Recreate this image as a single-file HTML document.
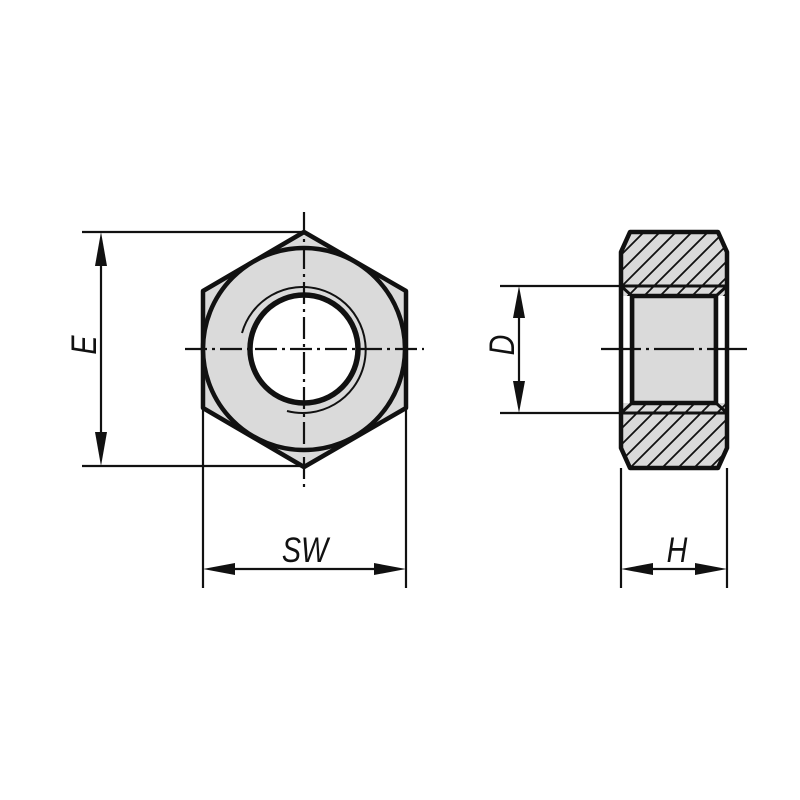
<!DOCTYPE html>
<html><head><style>html,body{margin:0;padding:0;background:#fff}svg{display:block}</style></head>
<body>
<svg width="800" height="800" viewBox="0 0 800 800" xmlns="http://www.w3.org/2000/svg">
<defs>
<clipPath id="ct"><path d="M630,232 L718,232 L727,252 L727,296 L621,296 L621,252 Z"/></clipPath>
<clipPath id="cb"><path d="M621,403 L727,403 L727,448 L718,468 L630,468 L621,448 Z"/></clipPath>
</defs>
<!-- front view -->
<polygon points="304,232 406,291 406,408 304,467 203,408 203,291" fill="#dadada" stroke="#111" stroke-width="4.5" stroke-linejoin="round"/>
<circle cx="304" cy="349" r="101" fill="#dadada" stroke="#111" stroke-width="4.5"/>
<circle cx="304" cy="349" r="54" fill="#fff" stroke="#111" stroke-width="5.5"/>
<path d="M242,333 A63,63 0 1 1 287,411" fill="none" stroke="#111" stroke-width="2"/>
<line x1="304" y1="212" x2="304" y2="488" stroke="#111" stroke-width="2.2" stroke-dasharray="22,5,3,5"/>
<line x1="185" y1="349" x2="424" y2="349" stroke="#111" stroke-width="2.2" stroke-dasharray="22,5,3,5"/>
<g stroke="#111" stroke-width="2.2">
<line x1="82" y1="232" x2="304" y2="232"/>
<line x1="82" y1="466" x2="304" y2="466"/>
<line x1="101" y1="240" x2="101" y2="458"/>
<line x1="203" y1="410" x2="203" y2="588"/>
<line x1="406" y1="410" x2="406" y2="588"/>
<line x1="211" y1="569" x2="398" y2="569"/>
<line x1="621" y1="468" x2="621" y2="588"/>
<line x1="727" y1="468" x2="727" y2="588"/>
<line x1="629" y1="569" x2="719" y2="569"/>
<line x1="500" y1="286" x2="625" y2="286"/>
<line x1="500" y1="413" x2="625" y2="413"/>
<line x1="519" y1="294" x2="519" y2="405"/>
</g>
<g fill="#111">
<polygon points="101,232 95,266 107,266"/>
<polygon points="101,466 95,432 107,432"/>
<polygon points="203,569 235,563 235,575"/>
<polygon points="406,569 374,563 374,575"/>
<polygon points="621,569 653,563 653,575"/>
<polygon points="727,569 695,563 695,575"/>
<polygon points="519,286 513,318 525,318"/>
<polygon points="519,413 513,381 525,381"/>
</g>
<g font-family="Liberation Sans, sans-serif" font-style="italic" font-size="35" fill="#111">
<text text-anchor="middle" transform="translate(305,562) scale(0.82,1)">SW</text>
<text text-anchor="middle" transform="translate(677,562) scale(0.82,1)">H</text>
<text text-anchor="middle" transform="translate(96,345) rotate(-90) scale(0.82,1)">E</text>
<text text-anchor="middle" transform="translate(514,345) rotate(-90) scale(0.82,1)">D</text>
</g>
<!-- side view -->
<rect x="621" y="286" width="106" height="127" fill="#fff"/>
<g clip-path="url(#ct)" stroke="#111" stroke-width="1.8">
<rect x="600" y="220" width="150" height="80" fill="#dadada" stroke="none"/>
<path d="M560,300 L640,220 M576,300 L656,220 M592,300 L672,220 M608,300 L688,220 M624,300 L704,220 M640,300 L720,220 M656,300 L736,220 M672,300 L752,220 M688,300 L768,220 M704,300 L784,220 M720,300 L800,220"/>
</g>
<g clip-path="url(#cb)" stroke="#111" stroke-width="1.8">
<rect x="600" y="400" width="150" height="80" fill="#dadada" stroke="none"/>
<path d="M560,490 L650,400 M576,490 L666,400 M592,490 L682,400 M608,490 L698,400 M624,490 L714,400 M640,490 L730,400 M656,490 L746,400 M672,490 L762,400 M688,490 L778,400 M704,490 L794,400 M720,490 L810,400"/>
</g>
<rect x="632" y="296" width="84" height="107" fill="#dadada" stroke="#111" stroke-width="4.5"/>
<rect x="621" y="296" width="11" height="107" fill="#fff"/>
<rect x="716" y="296" width="11" height="107" fill="#fff"/>
<line x1="632" y1="296" x2="632" y2="403" stroke="#111" stroke-width="4.5"/>
<line x1="716" y1="296" x2="716" y2="403" stroke="#111" stroke-width="4.5"/>
<path d="M630,232 L718,232 L727,252 L727,448 L718,468 L630,468 L621,448 L621,252 Z" fill="none" stroke="#111" stroke-width="4.5" stroke-linejoin="round"/>
<g stroke="#111" stroke-width="3">
<line x1="621" y1="286" x2="727" y2="286"/>
<line x1="621" y1="413" x2="727" y2="413"/>
<line x1="621" y1="286" x2="632" y2="296"/>
<line x1="727" y1="286" x2="716" y2="296"/>
<line x1="621" y1="413" x2="632" y2="403"/>
<line x1="727" y1="413" x2="716" y2="403"/>
</g>
<line x1="601" y1="349" x2="748" y2="349" stroke="#111" stroke-width="2.2" stroke-dasharray="40,5,3,5"/>
</svg>
</body></html>
